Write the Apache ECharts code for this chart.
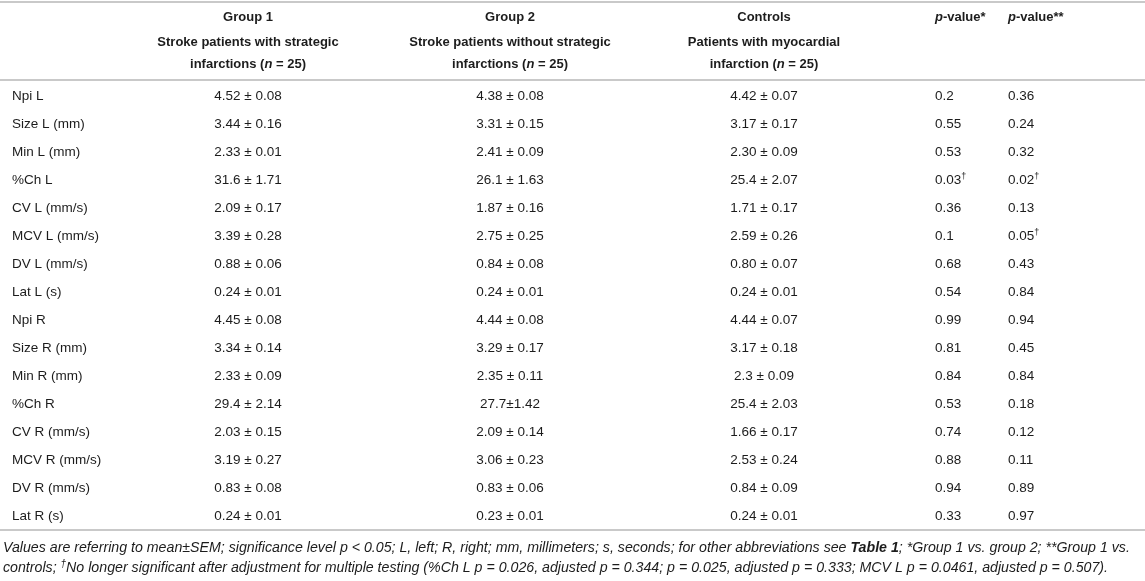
<!DOCTYPE html>
<html>
<head>
<meta charset="utf-8">
<title>Pupillometry table</title>
<script src="https://cdn.jsdelivr.net/npm/echarts@6/dist/echarts.min.js"></script>
<style>
  html, body { margin: 0; padding: 0; background: #fff; }
  #table { width: 1145px; height: 581px; }
</style>
</head>
<body>
<div id="table"></div>
<script>
var rowLabels = ['Npi L', 'Size L (mm)', 'Min L (mm)', '%Ch L', 'CV L (mm/s)', 'MCV L (mm/s)', 'DV L (mm/s)', 'Lat L (s)',
    'Npi R', 'Size R (mm)', 'Min R (mm)', '%Ch R', 'CV R (mm/s)', 'MCV R (mm/s)', 'DV R (mm/s)', 'Lat R (s)'];

var group1 = ['4.52 ± 0.08', '3.44 ± 0.16', '2.33 ± 0.01', '31.6 ± 1.71', '2.09 ± 0.17', '3.39 ± 0.28', '0.88 ± 0.06', '0.24 ± 0.01',
    '4.45 ± 0.08', '3.34 ± 0.14', '2.33 ± 0.09', '29.4 ± 2.14', '2.03 ± 0.15', '3.19 ± 0.27', '0.83 ± 0.08', '0.24 ± 0.01'];
var group2 = ['4.38 ± 0.08', '3.31 ± 0.15', '2.41 ± 0.09', '26.1 ± 1.63', '1.87 ± 0.16', '2.75 ± 0.25', '0.84 ± 0.08', '0.24 ± 0.01',
    '4.44 ± 0.08', '3.29 ± 0.17', '2.35 ± 0.11', '27.7±1.42', '2.09 ± 0.14', '3.06 ± 0.23', '0.83 ± 0.06', '0.23 ± 0.01'];
var controls = ['4.42 ± 0.07', '3.17 ± 0.17', '2.30 ± 0.09', '25.4 ± 2.07', '1.71 ± 0.17', '2.59 ± 0.26', '0.80 ± 0.07', '0.24 ± 0.01',
    '4.44 ± 0.07', '3.17 ± 0.18', '2.3 ± 0.09', '25.4 ± 2.03', '1.66 ± 0.17', '2.53 ± 0.24', '0.84 ± 0.09', '0.24 ± 0.01'];

var pGroup2 = [0.2, 0.55, 0.53, 0.03, 0.36, 0.1, 0.68, 0.54, 0.99, 0.81, 0.84, 0.53, 0.74, 0.88, 0.94, 0.33];
var pControls = [0.36, 0.24, 0.32, 0.02, 0.13, 0.05, 0.43, 0.84, 0.94, 0.45, 0.84, 0.18, 0.12, 0.11, 0.89, 0.97];
// rows that lose significance after correction
var pGroup2Dagger = [3];
var pControlsDagger = [3, 5];

var colTitles = ['Group 1', 'Group 2', 'Controls', '{i|p}-value*', '{i|p}-value**'];
var colSubs = [
    'Stroke patients with strategic\ninfarctions ({i|n} = 25)',
    'Stroke patients without strategic\ninfarctions ({i|n} = 25)',
    'Patients with myocardial\ninfarction ({i|n} = 25)',
    '',
    ''
];

var footLines = [
    'Values are referring to mean±SEM; significance level p < 0.05; L, left; R, right; mm, millimeters; s, seconds; for other abbreviations see {b|Table 1}; *Group 1 vs. group 2; **Group 1 vs.',
    'controls; {sup|†}No longer significant after adjustment for multiple testing (%Ch L p = 0.026, adjusted p = 0.344; p = 0.025, adjusted p = 0.333; MCV L p = 0.0461, adjusted p = 0.507).'
];

// layout
var W = 1145;
var colX = [248, 510, 764, 935, 1008];
var colAlign = ['center', 'center', 'center', 'left', 'left'];
var font = "'Liberation Sans', Arial, Helvetica, sans-serif";
var ink = '#1c1c1c';
var ruleColor = '#c9c9c9';
var bodySize = 13.5;
var footSize = 14.2;

var columns = [group1, group2, controls, pGroup2, pControls];
var daggers = [[], [], [], pGroup2Dagger, pControlsDagger];
var cells = [];
columns.forEach(function (col, c) {
    col.forEach(function (v, r) {
        cells.push({ col: c, row: r, text: String(v), dagger: daggers[c].indexOf(r) >= 0 });
    });
});

var chart = echarts.init(document.getElementById('table'));

function renderCell(params, api) {
    var cell = cells[params.dataIndex];
    var pt = api.coord([colX[cell.col], cell.row]);
    return {
        type: 'text',
        x: pt[0],
        y: pt[1],
        style: {
            text: cell.dagger ? cell.text + '{sup|†}' : cell.text,
            rich: { sup: { fontSize: 9, fontFamily: font, fill: ink, padding: [0, 0, 7, 0] } },
            fontSize: bodySize,
            fontFamily: font,
            fill: ink,
            align: colAlign[cell.col],
            verticalAlign: 'middle'
        }
    };
}

var graphics = [];
[2, 80, 530].forEach(function (y) {
    graphics.push({
        type: 'line',
        shape: { x1: 0, y1: y, x2: W, y2: y },
        style: { stroke: ruleColor, lineWidth: 2 }
    });
});
colTitles.forEach(function (t, c) {
    graphics.push({
        type: 'text',
        x: colX[c],
        y: 17,
        style: {
            text: t,
            rich: { i: { fontStyle: 'italic', fontWeight: 'bold', fontSize: 13, fontFamily: font, fill: ink } },
            fontSize: 13, fontWeight: 'bold', fontFamily: font, fill: ink,
            align: colAlign[c], verticalAlign: 'middle'
        }
    });
    if (colSubs[c]) {
        graphics.push({
            type: 'text',
            x: colX[c],
            y: 53,
            style: {
                text: colSubs[c],
                rich: { i: { fontStyle: 'italic', fontWeight: 'bold', fontSize: 13, fontFamily: font, fill: ink, lineHeight: 22 } },
                fontSize: 13, fontWeight: 'bold', fontFamily: font, fill: ink, lineHeight: 22,
                align: colAlign[c], verticalAlign: 'middle'
            }
        });
    }
});
footLines.forEach(function (t, i) {
    graphics.push({
        type: 'text',
        x: 3,
        y: 548 + i * 20,
        style: {
            text: t,
            rich: {
                b: { fontStyle: 'italic', fontWeight: 'bold', fontSize: footSize, fontFamily: font, fill: ink },
                sup: { fontStyle: 'italic', fontSize: 10, fontFamily: font, fill: ink, padding: [0, 0, 8, 0] }
            },
            fontSize: footSize, fontStyle: 'italic', fontFamily: font, fill: ink,
            align: 'left', verticalAlign: 'middle'
        }
    });
});

var option = {
    backgroundColor: '#fff',
    animation: false,
    grid: { left: 0, right: 0, top: 82, bottom: 51 },
    xAxis: { type: 'value', min: 0, max: W, show: false },
    yAxis: {
        type: 'category',
        data: rowLabels,
        inverse: true,
        axisLine: { show: false },
        axisTick: { show: false },
        splitLine: { show: false },
        axisLabel: { inside: true, margin: 12, fontSize: bodySize, fontFamily: font, color: ink }
    },
    series: [{
        type: 'custom',
        renderItem: renderCell,
        data: cells.map(function (c) { return [colX[c.col], c.row]; }),
        silent: true
    }],
    graphic: graphics
};

chart.setOption(option);
</script>
</body>
</html>
